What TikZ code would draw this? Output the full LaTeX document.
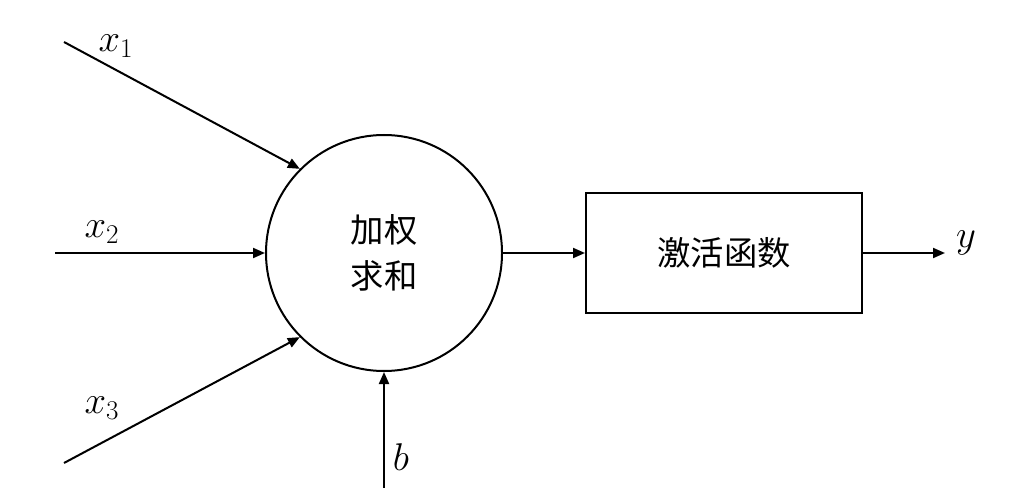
\documentclass[tikz,border=0pt]{standalone}
\usepackage{fix-cm}
\usepackage{fontspec}
\newfontfamily\cjk{Noto Sans CJK SC}
\usetikzlibrary{arrows.meta}
\begin{document}
\begin{tikzpicture}[x=0.75pt,y=-0.75pt,
  line width=1.5pt,
  arr/.style={-{Triangle[length=9pt,width=7.5pt]}},
  lbl/.style={font=\fontsize{29}{34}\selectfont, inner sep=0pt},
  cj/.style={font=\fontsize{25}{35}\selectfont\cjk, align=center}]
\useasboundingbox (0,0) rectangle (1016,488);
\node[draw, circle, minimum size=236*0.75pt, inner sep=0pt, cj] (sum) at (384,253) {加权\\求和};
\node[draw, rectangle, minimum width=276*0.75pt, minimum height=120*0.75pt, inner sep=0pt, cj] (act) at (724,253) {激活函数};
\coordinate (s1) at (64,42);
\coordinate (s2) at (55,253);
\coordinate (s3) at (64,463);
\coordinate (sb) at (384,488);
\coordinate (ey) at (945,253);
\draw[arr] (s1) -- (sum.135);
\draw[arr] (s2) -- (sum.west);
\draw[arr] (s3) -- (sum.225);
\draw[arr] (sb) -- (sum.south);
\draw[arr] (sum.east) -- (act.west);
\draw[arr] (act.east) -- (ey);
\node[lbl] (lx1) at (116,46) {$x_1$};
\node[lbl] (lx2) at (102,232) {$x_2$};
\node[lbl] (lx3) at (102,408) {$x_3$};
\node[lbl] (lb) at (401,457) {$b$};
\node[lbl] (ly) at (966,243) {$y$};
\end{tikzpicture}
\end{document}
